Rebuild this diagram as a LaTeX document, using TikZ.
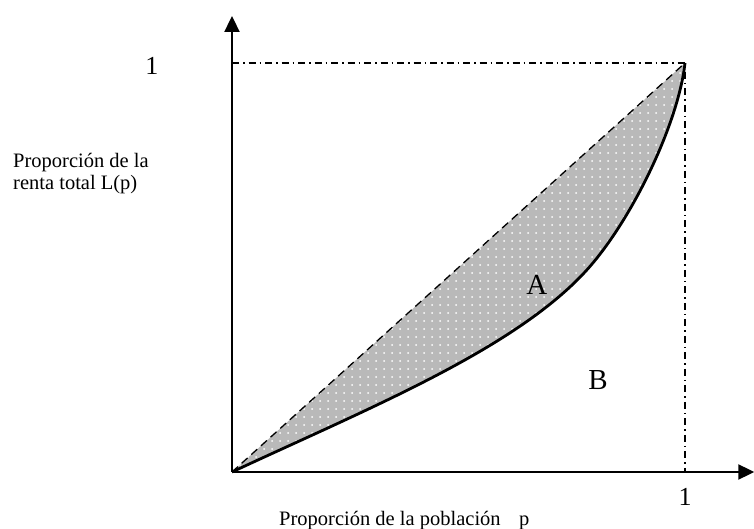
\documentclass[tikz,border=0pt]{standalone}
\usepackage{fontspec}
\setmainfont{Liberation Serif}
\usetikzlibrary{arrows.meta,patterns.meta}
\tikzset{>={Triangle[length=16pt,width=15pt]}}

\begin{document}
\begin{tikzpicture}[x=453pt,y=409pt,font=\fontsize{20.5}{23}\selectfont]
    \useasboundingbox (-232pt,-57pt) rectangle (522pt,472pt);
    \coordinate (O) at (0,0);
    \coordinate (P) at (1,0);
    \coordinate (T) at (1,1);
    \coordinate (Q) at (0,1);
    \coordinate (M) at (0.78,0.49);
    \coordinate (xend) at (1.153,0);
    \coordinate (yend) at (0,1.115);
    % area A
    \path[fill=gray!55, postaction={pattern={Dots[distance=8pt,radius=1pt]}, pattern color=white}]
        (O) .. controls (0.3,0.155) and (0.62,0.298) .. (M) .. controls (0.88,0.61) and (0.985,0.85) .. (T) -- cycle;
    \draw[dash pattern=on 8pt off 5pt, line width=1.3pt] (O) -- (T);
    % Lorenz curve
    \draw[line width=2.8pt]
        (O) .. controls (0.3,0.155) and (0.62,0.298) .. (M) .. controls (0.88,0.61) and (0.985,0.85) .. (T);
    \draw[dash pattern=on 7pt off 4pt on 1.5pt off 4pt, line width=1.5pt] (Q) -- (T) -- (P);
    \draw[->, line width=2pt] (O) -- (xend);
    \draw[->, line width=2pt] (O) -- (yend);
    \node[font=\fontsize{26}{30}\selectfont] (oney) at (-0.1766,0.9927) {1};
    \node[font=\fontsize{26}{30}\selectfont] (onex) at (1,-0.06) {1};
    \node[anchor=base west, inner sep=0] (ylab1) at (-0.4834,0.7457) {Proporción de la};
    \node[anchor=base west, inner sep=0] (ylab2) at (-0.4834,0.6895) {renta total L(p)};
    \node[anchor=base west, inner sep=0] (xlab) at (0.1038,-0.132) {Proporción de la población\hspace{0.9em}p};
    \node[font=\fontsize{29}{34}\selectfont] (A) at (0.673,0.457) {A};
    \node[font=\fontsize{29}{34}\selectfont] (B) at (0.808,0.225) {B};
\end{tikzpicture}
\end{document}
